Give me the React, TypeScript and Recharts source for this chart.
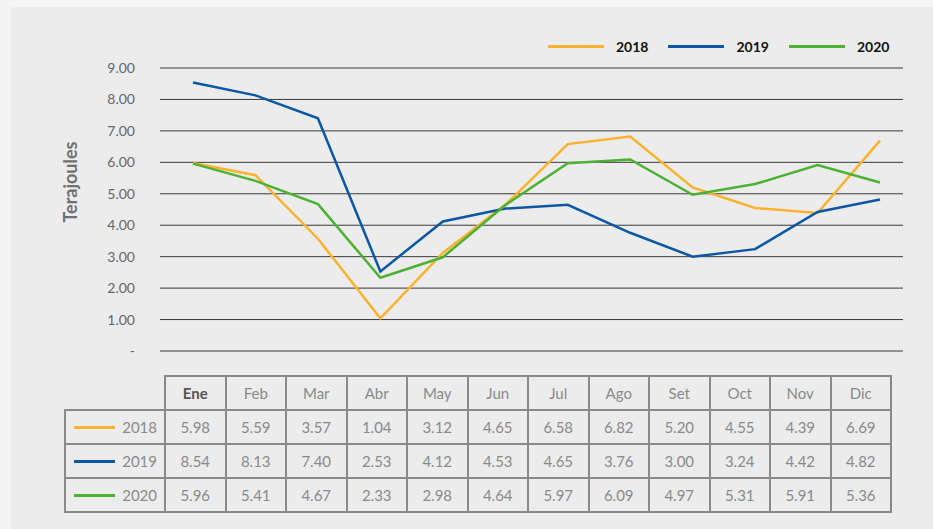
import React from "react";
import { LineChart, Line, XAxis, YAxis, CartesianGrid } from "recharts";

const months = ["Ene", "Feb", "Mar", "Abr", "May", "Jun", "Jul", "Ago", "Set", "Oct", "Nov", "Dic"];
const y2018 = [5.98, 5.59, 3.57, 1.04, 3.12, 4.65, 6.58, 6.82, 5.2, 4.55, 4.39, 6.69];
const y2019 = [8.54, 8.13, 7.4, 2.53, 4.12, 4.53, 4.65, 3.76, 3.0, 3.24, 4.42, 4.82];
const y2020 = [5.96, 5.41, 4.67, 2.33, 2.98, 4.64, 5.97, 6.09, 4.97, 5.31, 5.91, 5.36];
const yTicks = [0, 1, 2, 3, 4, 5, 6, 7, 8, 9];

const seriesNames = ["2018", "2019", "2020"];
const seriesValues = [y2018, y2019, y2020];
const seriesColors = ["#FDB22E", "#0B57A4", "#4CB233"];

const data = months.map((m, i) => ({
  m,
  s2018: y2018[i],
  s2019: y2019[i],
  s2020: y2020[i],
}));

const FONT = "Lato, 'Open Sans', sans-serif";
const BORDER = "2px solid #8a8a8a";

export default function App() {
  return (
    <div
      style={{
        position: "absolute",
        left: 0,
        top: 0,
        width: 933,
        height: 529,
        background: "#f4f4f4",
        fontFamily: FONT,
        overflow: "hidden",
      }}
    >
      <div
        style={{
          position: "absolute",
          left: 11,
          top: 7,
          width: 922,
          height: 522,
          background: "#ececec",
        }}
      />
      <div style={{ position: "absolute", left: 0, top: 0 }}>
        <LineChart
          width={933}
          height={370}
          data={data}
          margin={{ top: 68, right: 30, bottom: 19, left: 60 }}
        >
          <CartesianGrid horizontal vertical={false} stroke="#3a3a3a" strokeWidth={1} />
          <XAxis dataKey="m" hide padding={{ left: 33, right: 23 }} />
          <YAxis
            width={100}
            domain={[0, 9]}
            ticks={yTicks}
            axisLine={false}
            tickLine={false}
            tickMargin={19}
            interval={0}
            tick={{ fill: "#666", fontSize: 14, fontFamily: FONT }}
            tickFormatter={(v: number) => (v === 0 ? "-" : v.toFixed(2))}
            label={(props: any) => {
              const vb = props.viewBox || {};
              const cx = (vb.x ?? 60) + 10;
              const cy = (vb.y ?? 68) + 114;
              return (
                <text
                  x={cx}
                  y={cy}
                  transform={`rotate(-90, ${cx}, ${cy})`}
                  textAnchor="middle"
                  dominantBaseline="central"
                  fill="#707070"
                  fontSize={18}
                  fontWeight={700}
                  fontFamily={FONT}
                >
                  Terajoules
                </text>
              );
            }}
          />
          <Line type="linear" dataKey="s2018" stroke={seriesColors[0]} strokeWidth={2.5} dot={false} isAnimationActive={false} />
          <Line type="linear" dataKey="s2019" stroke={seriesColors[1]} strokeWidth={2.5} dot={false} isAnimationActive={false} />
          <Line type="linear" dataKey="s2020" stroke={seriesColors[2]} strokeWidth={2.5} dot={false} isAnimationActive={false} />
        </LineChart>
      </div>

      {/* Legend */}
      <div
        style={{
          position: "absolute",
          left: 548,
          top: 37,
          display: "flex",
          alignItems: "center",
          height: 18,
        }}
      >
        {seriesNames.map((n, i) => (
          <div key={n} style={{ display: "flex", alignItems: "center", marginRight: i < 2 ? 20 : 0 }}>
            <div style={{ width: 56, height: 3, background: seriesColors[i], marginRight: 12 }} />
            <span style={{ fontSize: 14, fontWeight: 700, color: "#111", fontFamily: FONT }}>{n}</span>
          </div>
        ))}
      </div>

      {/* Data table */}
      <table
        style={{
          position: "absolute",
          left: 64,
          top: 375,
          borderCollapse: "collapse",
          tableLayout: "fixed",
          fontFamily: FONT,
          fontSize: 15,
          color: "#8a8a8a",
        }}
      >
        <colgroup>
          <col style={{ width: 100 }} />
          {months.map((m) => (
            <col key={m} style={{ width: 60.5 }} />
          ))}
        </colgroup>
        <tbody>
          <tr style={{ height: 34 }}>
            <td style={{ border: "none", padding: 0 }} />
            {months.map((m, i) => (
              <td
                key={m}
                style={{
                  border: BORDER,
                  textAlign: "center",
                  padding: 0,
                  fontWeight: i === 0 ? 700 : 400,
                  color: i === 0 ? "#555" : "#8a8a8a",
                }}
              >
                {m}
              </td>
            ))}
          </tr>
          {seriesNames.map((n, si) => (
            <tr key={n} style={{ height: 34 }}>
              <td style={{ border: BORDER, padding: 0 }}>
                <div style={{ display: "flex", alignItems: "center", justifyContent: "flex-end", paddingRight: 7 }}>
                  <div style={{ width: 41, height: 3, background: seriesColors[si], marginRight: 7 }} />
                  <span>{n}</span>
                </div>
              </td>
              {seriesValues[si].map((v, i) => (
                <td key={i} style={{ border: BORDER, textAlign: "center", padding: 0 }}>
                  {v.toFixed(2)}
                </td>
              ))}
            </tr>
          ))}
        </tbody>
      </table>
    </div>
  );
}
